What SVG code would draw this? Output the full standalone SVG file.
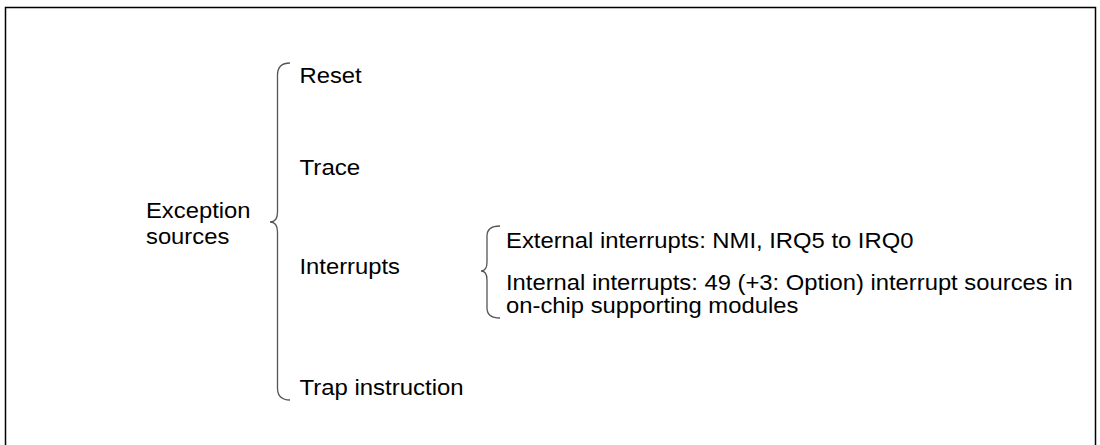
<svg xmlns="http://www.w3.org/2000/svg" width="1100" height="445" viewBox="0 0 1100 445">
<style>
.t{font-family:"Liberation Sans",Arial,Helvetica,sans-serif;font-size:21.5px;fill:#000}
.br{fill:none;stroke:#555;stroke-width:1.3}
</style>
<rect x="0" y="0" width="1100" height="445" fill="#fff"/>
<path d="M5.5,447 L5.5,7.5 L1095.5,7.5 L1095.5,447" fill="none" stroke="#000" stroke-width="1.5"/>
<g id="connectors">
<path class="br" d="M290,63 Q277.5,63 277.5,75 L277.5,212 Q277.5,222 270,222 Q277.5,222 277.5,232 L277.5,388 Q277.5,400 290,400"/>
<path class="br" d="M500,226 Q487,226 487,236 L487,262 Q487,271 481,271 Q487,271 487,280 L487,308 Q487,318 500,318"/>
</g>
<g id="root"><text class="t" x="146" y="218" textLength="104.5" lengthAdjust="spacingAndGlyphs">Exception</text><text class="t" x="146" y="244" textLength="83.3" lengthAdjust="spacingAndGlyphs">sources</text></g>
<g id="reset"><text class="t" x="299.5" y="83" textLength="62.2" lengthAdjust="spacingAndGlyphs">Reset</text></g>
<g id="trace"><text class="t" x="299.5" y="175" textLength="60.8" lengthAdjust="spacingAndGlyphs">Trace</text></g>
<g id="interrupts"><text class="t" x="299.5" y="274" textLength="100.5" lengthAdjust="spacingAndGlyphs">Interrupts</text></g>
<g id="trap"><text class="t" x="299.5" y="395" textLength="164.1" lengthAdjust="spacingAndGlyphs">Trap instruction</text></g>
<g id="external"><text class="t" x="506" y="248" textLength="407.4" lengthAdjust="spacingAndGlyphs">External interrupts: NMI, IRQ5 to IRQ0</text></g>
<g id="internal"><text class="t" x="506" y="290" textLength="566.8" lengthAdjust="spacingAndGlyphs">Internal interrupts: 49 (+3: Option) interrupt sources in</text><text class="t" x="506" y="313" textLength="292.3" lengthAdjust="spacingAndGlyphs">on-chip supporting modules</text></g>
</svg>
